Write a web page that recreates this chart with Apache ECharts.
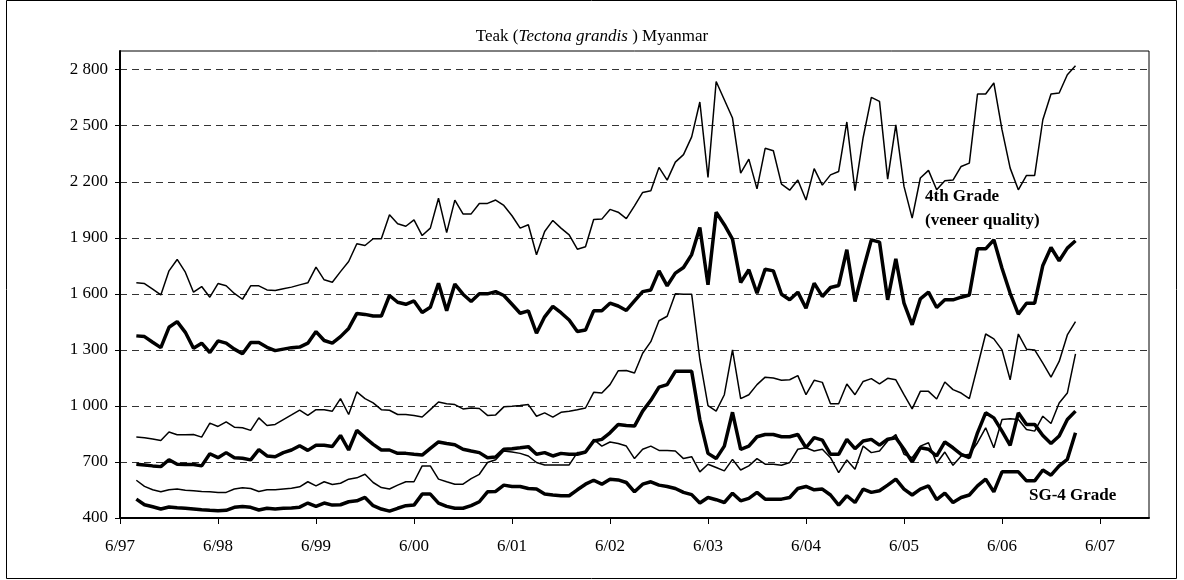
<!DOCTYPE html>
<html>
<head>
<meta charset="utf-8">
<script src="https://cdn.jsdelivr.net/npm/echarts@6/dist/echarts.min.js"></script>
<style>
  html, body { margin: 0; padding: 0; background: #ffffff; }
  #chart { width: 1184px; height: 580px; }
</style>
</head>
<body>
<div id="chart"></div>
<script>
// Monthly axis runs from 6/97 to 12/07; labels only on each June.
const axisFirstYear = 1997;
const axisFirstMonth = 6;
const axisMonthCount = 127;
const seriesFirstMonth = '8/97';

// Y axis tick values
const yTicks = [400, 700, 1000, 1300, 1600, 1900, 2200, 2500, 2800];

// Teak log prices, monthly from 8/97 to 3/07
const upperThin = [
  1659,1655,1625,1594,1723,1784,1716,1609,1639,1582,
  1655,1643,1602,1571,1643,1643,1621,1618,1627,1636,
  1648,1659,1743,1675,1662,1719,1773,1868,1859,1895,
  1895,2023,1975,1962,1996,1912,1952,2112,1928,2102,
  2028,2028,2084,2084,2102,2073,2018,1952,1970,1809,
  1934,1993,1952,1916,1839,1852,1998,2000,2052,2037,
  2003,2071,2143,2152,2277,2209,2305,2345,2440,2627,
  2223,2737,2639,2541,2246,2321,2162,2379,2366,2187,
  2155,2209,2102,2270,2182,2237,2255,2520,2152,2437,
  2652,2630,2214,2505,2175,2005,2220,2261,2157,2205,
  2209,2282,2300,2670,2670,2729,2479,2273,2157,2234,
  2234,2532,2670,2675,2773,2821
];
const fourthGradeVeneer = [
  1375,1371,1341,1312,1421,1451,1394,1309,1336,1286,
  1348,1336,1304,1279,1339,1339,1314,1296,1304,1312,
  1315,1336,1398,1350,1336,1371,1415,1495,1490,1481,
  1481,1591,1555,1544,1562,1500,1528,1657,1509,1652,
  1598,1559,1600,1600,1612,1591,1544,1496,1509,1389,
  1477,1533,1499,1460,1398,1406,1509,1509,1550,1535,
  1511,1562,1612,1621,1723,1643,1711,1741,1810,1955,
  1648,2037,1970,1893,1661,1729,1603,1732,1723,1598,
  1568,1609,1523,1657,1586,1634,1645,1836,1559,1729,
  1889,1877,1568,1787,1550,1434,1573,1609,1527,1568,
  1568,1582,1594,1841,1841,1889,1737,1603,1491,1550,
  1550,1752,1848,1777,1845,1884
];
const middleThin = [
  833,830,823,815,860,846,846,847,833,908,
  890,915,886,883,869,936,895,901,927,952,
  978,949,980,980,972,1039,954,1075,1039,1016,
  980,977,954,954,949,941,980,1021,1012,1007,
  984,989,986,949,952,995,998,1002,1007,945,
  963,940,966,972,980,989,1073,1069,1114,1188,
  1190,1176,1282,1344,1456,1480,1600,1598,1598,1250,
  1002,972,1060,1300,1039,1060,1114,1154,1149,1137,
  1140,1162,1060,1137,1126,1012,1012,1117,1060,1131,
  1146,1118,1148,1140,1060,984,1078,1078,1037,1128,
  1087,1069,1039,1211,1385,1359,1300,1140,1385,1304,
  1300,1229,1154,1238,1380,1451
];
const middleThick = [
  688,684,679,675,712,688,686,686,679,744,
  723,750,723,720,711,766,732,728,750,764,
  787,762,789,789,783,842,764,869,830,794,
  764,764,746,746,741,737,773,807,799,792,
  768,759,750,723,726,768,771,776,782,741,
  750,732,746,741,741,753,812,821,856,901,
  895,892,972,1030,1101,1114,1185,1185,1185,927,
  746,718,785,966,768,785,835,847,847,835,
  835,847,776,830,817,741,741,821,771,812,
  821,790,822,830,768,700,776,768,732,807,
  776,741,723,856,963,936,865,789,963,901,
  901,842,799,839,927,972
];
const lowerThin = [
  602,569,551,540,551,555,549,546,542,540,
  537,537,555,562,558,542,551,551,555,559,
  567,594,572,594,579,586,608,615,634,590,
  563,555,576,594,594,679,679,608,594,581,
  581,611,634,697,712,759,753,746,732,697,
  684,684,684,684,750,750,821,785,807,799,
  785,718,768,785,762,762,759,718,728,647,
  688,670,652,714,657,679,718,688,688,682,
  697,768,776,759,768,723,643,711,661,785,
  750,759,812,847,741,723,785,803,693,753,
  682,732,741,803,883,776,927,931,927,874,
  865,945,906,1016,1069,1279
];
const sg4Grade = [
  501,471,460,448,459,455,452,448,444,441,
  439,441,457,462,457,443,452,448,452,454,
  458,480,462,480,469,471,487,492,510,466,
  448,437,452,466,469,528,528,480,462,452,
  452,466,487,540,542,576,569,569,558,555,
  528,523,519,519,551,581,602,581,608,604,
  590,540,581,594,576,569,558,537,525,480,
  510,498,483,533,492,505,537,501,501,501,
  510,558,569,551,555,523,469,519,483,555,
  537,546,576,608,555,523,555,572,498,533,
  483,510,523,572,608,540,647,647,647,599,
  599,657,629,679,714,856
];

// Month categories "m/yy"
const categories = [];
for (let i = 0; i < axisMonthCount; i++) {
  const t = axisFirstMonth - 1 + i;
  const yr = axisFirstYear + Math.floor(t / 12);
  const mo = (t % 12) + 1;
  categories.push(mo + '/' + String(yr % 100).padStart(2, '0'));
}
const startIndex = categories.indexOf(seriesFirstMonth);

function placeOnAxis(values) {
  const out = new Array(categories.length).fill(null);
  values.forEach((v, i) => { out[startIndex + i] = v; });
  return out;
}

function formatThousands(v) {
  if (v >= 1000) {
    return Math.floor(v / 1000) + ' ' + String(v % 1000).padStart(3, '0');
  }
  return String(v);
}

const serif = '"Liberation Serif", "Times New Roman", serif';
const isJune = (idx) => idx % 12 === 0;

function lineSeries(name, values, width) {
  return {
    name: name,
    type: 'line',
    data: placeOnAxis(values),
    symbol: 'none',
    connectNulls: false,
    lineStyle: { color: '#000000', width: width },
    itemStyle: { color: '#000000' },
    emphasis: { disabled: true },
    silent: true
  };
}

const chart = echarts.init(document.getElementById('chart'), null, { renderer: 'canvas' });

chart.setOption({
  animation: false,
  backgroundColor: '#ffffff',
  title: {
    left: 'center',
    top: 23,
    text: '{r|Teak (}{i|Tectona grandis}{r| ) Myanmar}',
    textStyle: {
      fontWeight: 'normal',
      rich: {
        r: { fontFamily: serif, fontSize: 17, fontWeight: 'normal', color: '#000' },
        i: { fontFamily: serif, fontSize: 17, fontWeight: 'normal', fontStyle: 'italic', color: '#000' }
      }
    }
  },
  grid: {
    left: 120,
    right: 35,
    top: 51,
    bottom: 62,
    show: true,
    borderColor: '#000000',
    borderWidth: 1,
    backgroundColor: 'transparent'
  },
  xAxis: {
    type: 'category',
    data: categories,
    boundaryGap: false,
    axisLine: { show: true, lineStyle: { color: '#000000', width: 2 } },
    axisTick: {
      show: true,
      inside: false,
      length: 6,
      interval: isJune,
      lineStyle: { color: '#000000', width: 1 }
    },
    axisLabel: {
      interval: isJune,
      margin: 20,
      color: '#000000',
      fontFamily: serif,
      fontSize: 17
    },
    splitLine: { show: false }
  },
  yAxis: {
    type: 'value',
    min: 400,
    max: 2900,
    interval: 300,
    axisLine: { show: true, lineStyle: { color: '#000000', width: 2 } },
    axisTick: {
      show: true,
      inside: false,
      length: 5,
      customValues: yTicks,
      lineStyle: { color: '#000000', width: 1 }
    },
    axisLabel: {
      customValues: yTicks,
      margin: 12,
      color: '#000000',
      fontFamily: serif,
      fontSize: 17,
      formatter: (v) => (v > 2800 ? '' : formatThousands(v))
    },
    splitLine: {
      show: true,
      lineStyle: { color: '#333333', width: 1, type: [7, 5] }
    }
  },
  series: [
    lineSeries('upper thin', upperThin, 1.5),
    lineSeries('4th Grade (veneer quality)', fourthGradeVeneer, 3.5),
    lineSeries('middle thin', middleThin, 1.5),
    lineSeries('middle thick', middleThick, 3.5),
    lineSeries('lower thin', lowerThin, 1.5),
    lineSeries('SG-4 Grade', sg4Grade, 3.5)
  ],
  graphic: [
    {
      type: 'rect',
      silent: true,
      shape: { x: 6.5, y: 0.5, width: 1170, height: 578 },
      style: { fill: 'none', stroke: '#000000', lineWidth: 1 }
    },
    {
      type: 'text',
      left: 925,
      top: 188,
      silent: true,
      style: { text: '4th Grade', font: 'bold 17px ' + serif, fill: '#000000' }
    },
    {
      type: 'text',
      left: 925,
      top: 212,
      silent: true,
      style: { text: '(veneer quality)', font: 'bold 17px ' + serif, fill: '#000000' }
    },
    {
      type: 'text',
      left: 1029,
      top: 487,
      silent: true,
      style: { text: 'SG-4 Grade', font: 'bold 17px ' + serif, fill: '#000000' }
    }
  ]
});
</script>
</body>
</html>
